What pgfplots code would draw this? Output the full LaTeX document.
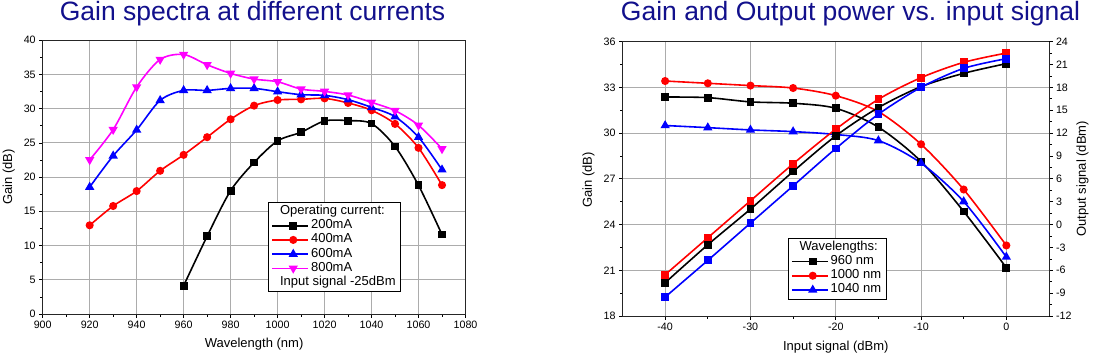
\documentclass[border=0pt]{standalone}
\usepackage{fontspec}
\setmainfont{Liberation Sans}
\usepackage{pgfplots}
\pgfplotsset{compat=1.18}
\definecolor{titleblue}{RGB}{18,16,140}
\definecolor{gridgray}{RGB}{172,172,172}
\definecolor{mag}{RGB}{255,0,255}
\begin{document}
\begin{tikzpicture}
\useasboundingbox (0,0) rectangle (1098bp,362bp);
\pgfplotsset{
  mystyle/.style={
    scale only axis,
    anchor=south west,
    /pgf/number format/assume math mode=true,
    /pgf/number format/set thousands separator={},
    tick label style={font=\fontsize{10.7bp}{12bp}\selectfont},
    tick align=outside,
    major tick length=3.5bp,
    minor tick length=2.5bp,
    tick style={black, line width=0.7bp},
    axis line style={black!85, line width=0.8bp},
    major grid style={gridgray, line width=0.9bp},
    every axis x label/.style={at={(rel axis cs:0.5,0)}, yshift=-33.5bp, anchor=base, font=\fontsize{13bp}{15bp}\selectfont},
    every axis y label/.style={at={(rel axis cs:0,0.5)}, xshift=-34bp, rotate=90, anchor=center, font=\fontsize{13bp}{15bp}\selectfont},
    legend style={font=\fontsize{13bp}{15bp}\selectfont, draw=black, line width=0.8bp, inner xsep=3bp, inner ysep=2bp,
      cells={anchor=west}, nodes={inner xsep=2bp, inner ysep=0bp, text height=10bp, text depth=4.2bp}},
    legend image code/.code={
      \path (0bp,0bp) -- (36bp,0bp);
      \draw[mark repeat=2,mark phase=2] plot coordinates {(7bp,0bp)(21bp,0bp)(35bp,0bp)};
    },
    s1/.style={black, line width=1.6bp, mark=square*, mark size=3.1bp, mark options={solid}},
    s2/.style={red, line width=1.6bp, mark=*, mark size=3.2bp, mark options={solid}},
    s3/.style={blue, line width=1.6bp, mark=triangle*, mark size=3.8bp, mark options={solid}},
    s4/.style={mag, line width=1.6bp, mark=triangle*, mark size=3.8bp, mark options={solid, rotate=180}},
    sq/.style={line width=1.6bp, mark=square*, mark size=3.1bp, mark options={solid}},
  },
}
% ---------------- left chart ----------------
\node[anchor=base, text=titleblue, font=\fontsize{26.5bp}{30bp}\selectfont] at (252.5bp,341.3bp) {Gain spectra at different currents};
\begin{axis}[mystyle,
  at={(42.7bp,48bp)}, width=422.8bp, height=273.8bp,
  xmin=900, xmax=1080, ymin=0, ymax=40,
  xtick={900,920,...,1080}, ytick={0,5,...,40},
  minor x tick num=1, minor y tick num=1,
  xtick pos=bottom, ytick pos=left,
  grid=major,
  xlabel={Wavelength (nm)}, ylabel={Gain (dB)},
  legend style={at={(rel axis cs:0.533,0.409)}, anchor=north west},
]
\addlegendimage{empty legend}\addlegendentry{\hspace*{-31bp}Operating current:}
\addplot[s1, smooth] coordinates {
(960,4.13)(970,11.36)(980,18.01)(990,22.14)(1000,25.29)(1010,26.55)(1020,28.2)(1030,28.25)(1040,27.82)(1050,24.47)(1060,18.79)(1070,11.6)};
\addlegendentry{200mA}
\addplot[s2, smooth] coordinates {
(920,12.96)(930,15.78)(940,17.96)(950,20.92)(960,23.25)(970,25.83)(980,28.45)(990,30.44)(1000,31.26)(1010,31.36)(1020,31.5)(1030,30.83)(1040,29.76)(1050,27.77)(1060,24.27)(1070,18.83)};
\addlegendentry{400mA}
\addplot[s3, smooth] coordinates {
(920,18.54)(930,23.11)(940,26.89)(950,31.21)(960,32.67)(970,32.67)(980,32.96)(990,32.96)(1000,32.48)(1010,32.04)(1020,31.94)(1030,31.31)(1040,30.19)(1050,28.83)(1060,25.83)(1070,21.07)};
\addlegendentry{600mA}
\addplot[s4, smooth] coordinates {
(920,22.52)(930,26.94)(940,33.16)(950,37.18)(960,37.91)(970,36.41)(980,35.15)(990,34.32)(1000,33.93)(1010,32.86)(1020,32.52)(1030,31.99)(1040,30.92)(1050,29.71)(1060,27.57)(1070,24.13)};
\addlegendentry{800mA}
\addlegendimage{empty legend}\addlegendentry{\hspace*{-31bp}Input signal -25dBm}
\end{axis}
% ---------------- right chart ----------------
\node[anchor=base, text=titleblue, font=\fontsize{26.5bp}{30bp}\selectfont] at (850.5bp,341.3bp) {Gain and Output power vs. input signal};
\begin{axis}[mystyle,
  at={(622.5bp,46bp)}, width=426.5bp, height=274.3bp,
  xmin=-45, xmax=5, ymin=18, ymax=36,
  xtick={-40,-30,...,0}, ytick={18,21,...,36},
  minor x tick num=1, minor y tick num=1,
  xtick pos=bottom, ytick pos=left,
  grid=major,
  xlabel={Input signal (dBm)}, ylabel={Gain (dB)},
  every axis x label/.append style={yshift=-1bp},
  every axis y label/.append style={xshift=-1bp},
]
\addplot[s1, smooth] coordinates {
(-40,32.37)(-35,32.33)(-30,32.05)(-25,31.96)(-20,31.63)(-15,30.39)(-10,28.14)(-5,24.86)(0,21.17)};
\addplot[s2, smooth] coordinates {
(-40,33.42)(-35,33.27)(-30,33.12)(-25,32.96)(-20,32.46)(-15,31.41)(-10,29.27)(-5,26.3)(0,22.63)};
\addplot[s3, smooth] coordinates {
(-40,30.5)(-35,30.36)(-30,30.21)(-25,30.1)(-20,29.91)(-15,29.51)(-10,28.03)(-5,25.51)(0,21.87)};
\end{axis}
\begin{axis}[mystyle,
  at={(622.5bp,46bp)}, width=426.5bp, height=274.3bp,
  xmin=-45, xmax=5, ymin=-12, ymax=24,
  axis x line=none, axis y line*=right,
  ytick={-12,-9,...,24}, minor y tick num=1,
  ylabel={Output signal (dBm)},
  every axis y label/.style={at={(rel axis cs:1,0.5)}, xshift=33.5bp, rotate=90, anchor=center, font=\fontsize{13bp}{15bp}\selectfont},
  legend style={at={(rel axis cs:0.387,0.285)}, anchor=north west},
]
\addplot[sq, red, smooth, forget plot] coordinates {
(-40,-6.58)(-35,-1.73)(-30,3.12)(-25,7.97)(-20,12.51)(-15,16.44)(-10,19.28)(-5,21.29)(0,22.51)};
\addplot[sq, black, smooth, forget plot] coordinates {
(-40,-7.63)(-35,-2.65)(-30,2.03)(-25,6.96)(-20,11.64)(-15,15.35)(-10,18.1)(-5,19.85)(0,21.12)};
\addplot[sq, blue, smooth, forget plot] coordinates {
(-40,-9.51)(-35,-4.7)(-30,0.19)(-25,5.08)(-20,9.98)(-15,14.48)(-10,18.01)(-5,20.5)(0,21.77)};
\addlegendimage{empty legend}\addlegendentry{\hspace*{-31bp}Wavelengths:}
\addlegendimage{s1}\addlegendentry{960 nm}
\addlegendimage{s2}\addlegendentry{1000 nm}
\addlegendimage{s3}\addlegendentry{1040 nm}
\end{axis}
\end{tikzpicture}
\end{document}
